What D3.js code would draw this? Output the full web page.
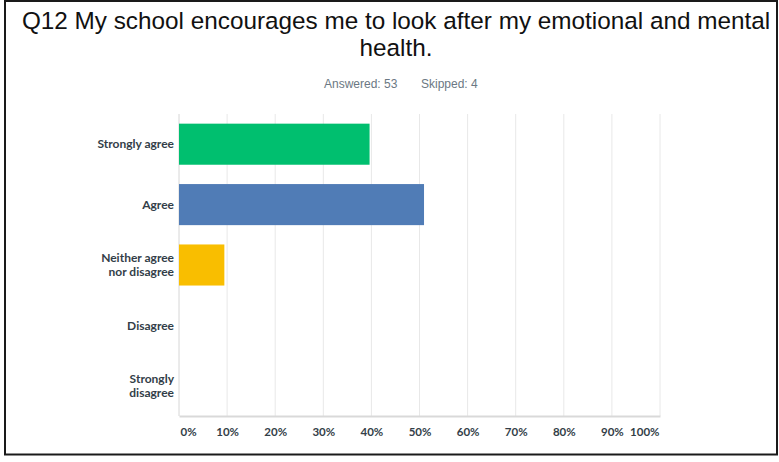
<!DOCTYPE html>
<html>
<head>
<meta charset="utf-8">
<script src="https://cdn.jsdelivr.net/npm/d3@7/dist/d3.min.js"></script>
<style>
  html, body { margin: 0; padding: 0; background: #fff; }
  svg { display: block; }
</style>
</head>
<body>
<svg id="chart" width="779" height="462"></svg>
<script>
// Survey question and response summary
const titleLines = ["Q12 My school encourages me to look after my emotional and mental", "health."];
const answered = 53;
const skipped = 4;

// Answer choices (multi-line labels split on "|") and share of respondents, in %
const categories = ["Strongly agree", "Agree", "Neither agree|nor disagree", "Disagree", "Strongly|disagree"];
const percents = [39.62, 50.94, 9.43, 0, 0];
const barColors = ["#00bf6f", "#507cb6", "#f9be00", "#6bc8cd", "#ff8b4f"];

// Axis ticks
const tickValues = [0, 10, 20, 30, 40, 50, 60, 70, 80, 90, 100];
const tickLabels = ["0%", "10%", "20%", "30%", "40%", "50%", "60%", "70%", "80%", "90%", "100%"];

const svg = d3.select("#chart");
const plot = { left: 179, right: 660, top: 114, bottom: 416 };

// Frame around the whole figure
svg.append("rect")
  .attr("x", 5).attr("y", 1)
  .attr("width", 772).attr("height", 453.5)
  .attr("fill", "none")
  .attr("stroke", "#1a1a1a")
  .attr("stroke-width", 2);

// Title
const title = svg.append("text")
  .attr("text-anchor", "middle")
  .attr("font-family", "'Liberation Sans', Arial, sans-serif")
  .attr("font-size", 24.3)
  .attr("fill", "#111");
titleLines.forEach((line, i) => {
  title.append("tspan").attr("x", 396).attr("y", 28.5 + i * 27).text(line);
});

// Answered / skipped summary
const summary = svg.append("text")
  .attr("y", 88)
  .attr("font-family", "'Liberation Sans', Arial, sans-serif")
  .attr("font-size", 12)
  .attr("fill", "#6b7883");
summary.append("tspan").attr("x", 324).text(`Answered: ${answered}`);
summary.append("tspan").attr("x", 421).text(`Skipped: ${skipped}`);

// Scales
const x = d3.scaleLinear().domain([0, 100]).range([plot.left, plot.right]);
const y = d3.scaleBand().domain(categories).range([plot.top, plot.bottom])
  .paddingInner(0.32).paddingOuter(0.16);

// Vertical gridlines
svg.append("g")
  .selectAll("line")
  .data(tickValues)
  .join("line")
  .attr("x1", d => x(d)).attr("x2", d => x(d))
  .attr("y1", plot.top).attr("y2", plot.bottom)
  .attr("stroke", d => d === 0 ? "#d6d6d6" : "#e8e8e8")
  .attr("stroke-width", 1);

// Bars
svg.append("g")
  .selectAll("rect")
  .data(categories)
  .join("rect")
  .attr("x", x(0))
  .attr("y", d => y(d))
  .attr("width", (d, i) => x(percents[i]) - x(0))
  .attr("height", y.bandwidth())
  .attr("fill", (d, i) => barColors[i]);

// Bottom axis
const xAxis = d3.axisBottom(x)
  .tickValues(tickValues)
  .tickFormat((d, i) => tickLabels[i])
  .tickSize(0)
  .tickPadding(12);
const gx = svg.append("g")
  .attr("transform", `translate(0,${plot.bottom})`)
  .call(xAxis);
gx.select(".domain").attr("stroke", "#d9d9d9").attr("stroke-width", 2);
gx.selectAll("text")
  .attr("font-family", "Lato, 'Open Sans', sans-serif")
  .attr("font-weight", "bold")
  .attr("font-size", 11.5)
  .attr("fill", "#333e48")
  .attr("text-anchor", d => d === 0 ? "start" : d === 100 ? "end" : "middle")
  .attr("dx", d => d === 0 ? 1 : d === 100 ? -1 : 0);

// Left axis with category labels
const yAxis = d3.axisLeft(y).tickSize(0).tickPadding(5).tickFormat("");
const gy = svg.append("g")
  .attr("transform", `translate(${plot.left},0)`)
  .call(yAxis);
gy.select(".domain").remove();
gy.selectAll(".tick").each(function (d) {
  const lines = d.split("|");
  const t = d3.select(this).select("text")
    .attr("font-family", "Lato, 'Open Sans', sans-serif")
    .attr("font-weight", "bold")
    .attr("font-size", 12)
    .attr("fill", "#333e48")
    .attr("text-anchor", "end")
    .attr("dy", null);
  const lh = 13.8;
  lines.forEach((ln, i) => {
    t.append("tspan")
      .attr("x", -5)
      .attr("y", (i - (lines.length - 1) / 2) * lh)
      .attr("dy", "0.35em")
      .text(ln);
  });
});
</script>
</body>
</html>
